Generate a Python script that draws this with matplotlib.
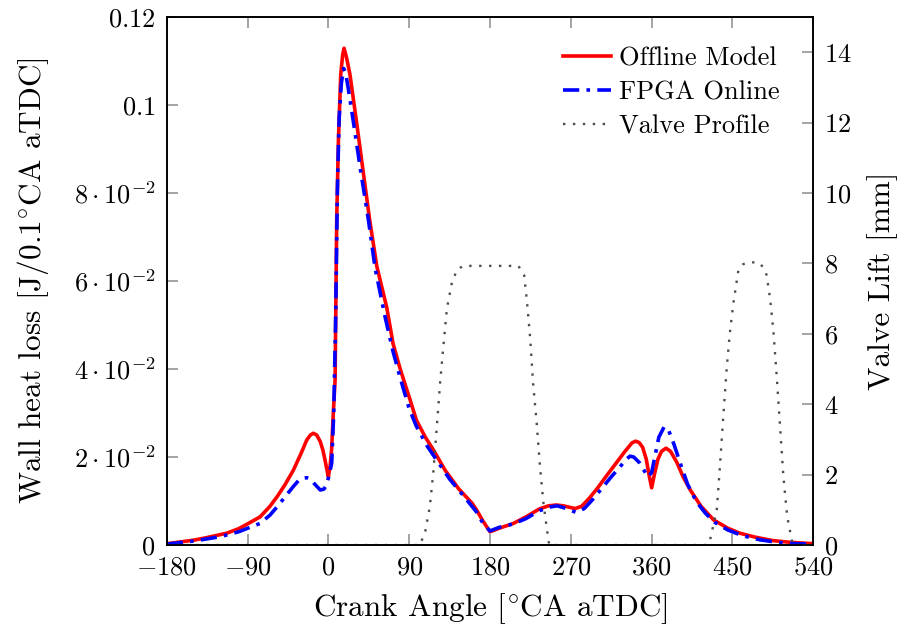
import matplotlib
matplotlib.use('Agg')
import matplotlib.pyplot as plt

plt.rcParams['font.family'] = 'serif'
plt.rcParams['font.serif'] = ['cmr10', 'DejaVu Serif']
plt.rcParams['mathtext.fontset'] = 'cm'
plt.rcParams['axes.unicode_minus'] = False

# crank angle [deg aTDC] and wall heat loss [J/0.1 deg CA], offline model
offline_deg = [-180, -150, -135, -113, -100, -90, -76, -65, -57, -48, -39, -30, -24, -20,
               -16.7, -13, -9, -6, -3.7, -1.5, 0, 2, 3.7, 5.5, 7.5, 9.3, 11.2, 13.8, 16,
               17.5, 20, 24, 31.6, 39, 46, 54, 65, 72, 80, 91, 98, 108, 117, 130, 145,
               160, 165, 172, 180, 190, 206, 220, 235, 245, 254, 262, 270, 275, 282, 290,
               300, 310, 320, 330, 338, 342, 346, 350, 354, 357, 360, 363, 367, 371, 376,
               381, 388, 395, 403, 415, 429, 445, 458, 475, 495, 515, 540]
offline_q = [0.0003, 0.0011, 0.0017, 0.0027, 0.0037, 0.0048, 0.0064, 0.0088, 0.011, 0.0138,
             0.017, 0.021, 0.0239, 0.0250, 0.0254, 0.0250, 0.0235, 0.0215, 0.0193, 0.0170,
             0.0155, 0.0180, 0.022, 0.030, 0.0375, 0.0739, 0.092, 0.107, 0.1115, 0.1129,
             0.111, 0.107, 0.0958, 0.0845, 0.0739, 0.0633, 0.054, 0.0458, 0.040, 0.033,
             0.0284, 0.0245, 0.0216, 0.017, 0.0128, 0.0095, 0.008, 0.0055, 0.003, 0.0038,
             0.0049, 0.0064, 0.0082, 0.0089, 0.0091, 0.0089, 0.0085, 0.0083, 0.0088,
             0.0105, 0.013, 0.0158, 0.0185, 0.0212, 0.0232, 0.0236, 0.0233, 0.0222,
             0.0195, 0.016, 0.013, 0.016, 0.0195, 0.0213, 0.022, 0.0213, 0.0188, 0.0155,
             0.0125, 0.0088, 0.0057, 0.0038, 0.0027, 0.0018, 0.001, 0.0006, 0.0003]

# FPGA online estimate
fpga_deg = [-180, -150, -120, -100, -90, -76, -65, -57, -48, -39, -33, -28, -24, -20, -15,
            -9, -5, -2, 1, 3.7, 6, 8, 10, 12, 14.5, 17, 19, 22, 28, 36, 44.6, 52, 63, 72,
            80, 90, 98, 110, 120, 135, 150, 165, 172, 180, 190, 206, 220, 235, 248, 255,
            265, 276, 285, 295, 305, 315, 325, 331, 336, 340, 346, 352, 356, 360, 364,
            368, 374, 379, 385, 392, 400, 410, 420, 430, 445, 460, 480, 500, 520, 540]
fpga_q = [0.0002, 0.0009, 0.0019, 0.003, 0.0038, 0.0049, 0.0068, 0.0087, 0.011, 0.0133,
          0.0147, 0.0152, 0.0153, 0.015, 0.0138, 0.0125, 0.0127, 0.0136, 0.016, 0.0186,
          0.03, 0.05, 0.08, 0.097, 0.105, 0.1083, 0.1075, 0.104, 0.096, 0.085, 0.0739,
          0.063, 0.052, 0.044, 0.038, 0.031, 0.027, 0.0225, 0.0195, 0.015, 0.0113, 0.0075,
          0.005, 0.0032, 0.0040, 0.0048, 0.006, 0.0078, 0.0087, 0.0089, 0.0083, 0.0074,
          0.0083, 0.0105, 0.013, 0.0155, 0.0178, 0.0194, 0.0202, 0.02, 0.0188, 0.0168,
          0.0155, 0.0165, 0.0205, 0.0245, 0.0269, 0.026, 0.0228, 0.0185, 0.0138, 0.0098,
          0.0072, 0.0052, 0.0034, 0.0022, 0.0012, 0.0006, 0.0003, 0.0002]

# valve lift [mm]
valve_deg = [-180, 102, 108, 113, 117, 120, 124.4, 128, 132, 137.4, 143, 150, 211.6, 218,
             221, 224.6, 228, 232, 235.7, 239.5, 245, 246, 422, 425, 432.5, 436, 440,
             443.7, 447, 451, 456.6, 462, 469.6, 478.8, 484, 488, 491.9, 495.5, 499.3,
             503, 506.7, 511, 516, 518, 540]
valve_lift = [0, 0, 0.4, 1.09, 2.1, 3.1, 4.6, 5.63, 6.72, 7.43, 7.81, 7.93, 7.93, 7.67,
              6.96, 5.92, 4.59, 3.46, 2.22, 1.19, 0.14, 0, 0, 0.14, 1.0, 2.22, 3.74,
              5.07, 6.01, 6.87, 7.81, 7.98, 8.03, 8.03, 7.9, 7.67, 7.0, 6.1, 4.78, 3.36,
              1.94, 0.8, 0.14, 0, 0]

x_ticks = [-180, -90, 0, 90, 180, 270, 360, 450, 540]
y_ticks = [0, 0.02, 0.04, 0.06, 0.08, 0.1, 0.12]
y_ticklabels = ['$0$', r'$2\cdot10^{-2}$', r'$4\cdot10^{-2}$', r'$6\cdot10^{-2}$',
                r'$8\cdot10^{-2}$', '$0.1$', '$0.12$']
lift_ticks = [0, 2, 4, 6, 8, 10, 12, 14]

fs = 19

fig = plt.figure(figsize=(9.07, 6.33), dpi=100)
ax = fig.add_axes([0.1838, 0.139, 0.8967 - 0.1838, 0.9731 - 0.139])
ax2 = ax.twinx()

l1, = ax.plot(offline_deg, offline_q, color='red', lw=2.6, label='Offline Model', zorder=3)
l2, = ax.plot(fpga_deg, fpga_q, color='blue', lw=2.6, dashes=(4.5, 2, 1, 2),
              label='FPGA Online', zorder=4)
l3, = ax2.plot(valve_deg, valve_lift, color='0.3', lw=1.7, dashes=(1, 3.2),
               label='Valve Profile')

ax.set_xlim(-180, 540)
ax.set_ylim(0, 0.12)
ax2.set_ylim(0, 15)

ax.set_xticks(x_ticks)
ax.set_xticklabels(['$%d$' % t if t >= 0 else r'$-%d$' % (-t) for t in x_ticks])
ax.set_yticks(y_ticks)
ax.set_yticklabels(y_ticklabels)
ax2.set_yticks(lift_ticks)
ax2.set_yticklabels(['$%d$' % t for t in lift_ticks])

for a in (ax, ax2):
    for s in a.spines.values():
        s.set_linewidth(1.2)
ax.tick_params(axis='x', direction='in', length=8, width=1.1, color='0.55',
               labelsize=fs, top=True, pad=8)
ax.tick_params(axis='y', direction='in', length=8, width=1.1, color='0.55',
               labelsize=fs, pad=8)
ax2.tick_params(axis='y', direction='in', length=8, width=1.1, color='0.55',
                labelsize=fs, pad=8)

ax.set_xlabel(r'Crank Angle [$^{\circ}$CA aTDC]', fontsize=22.5, labelpad=8)
ax.set_ylabel(r'Wall heat loss [J/0.1$^{\circ}$CA aTDC]', fontsize=22.5, labelpad=16)
ax2.set_ylabel('Valve Lift [mm]', fontsize=22.5, labelpad=11)

ax2.legend([l1, l2, l3], ['Offline Model', 'FPGA Online', 'Valve Profile'],
           loc='upper right', bbox_to_anchor=(0.983, 0.987), frameon=False, fontsize=19,
           handlelength=1.85, handletextpad=0.3, labelspacing=0.4, borderaxespad=0.45)

fig.savefig('out.png', dpi=100)
